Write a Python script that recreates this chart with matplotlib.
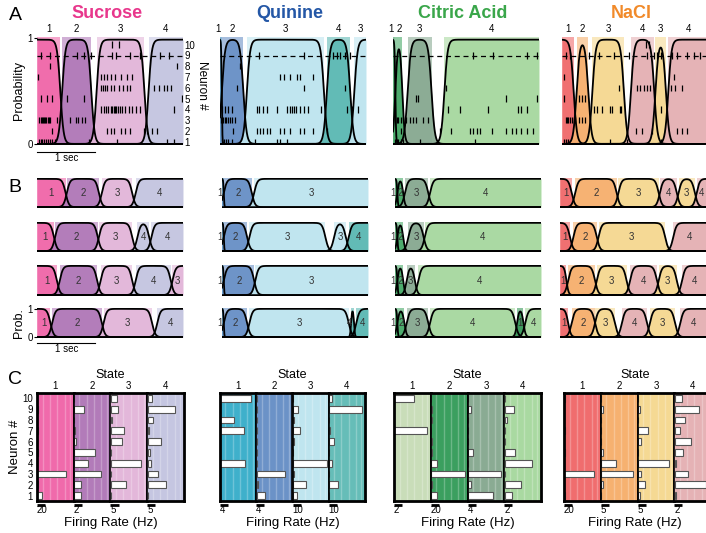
import numpy as np
import matplotlib.pyplot as plt

plt.rcParams['font.family'] = ['Liberation Sans', 'DejaVu Sans']

W, H = 706, 533
fig = plt.figure(figsize=(7.06, 5.33), dpi=100)


def box(x0, y0, x1, y1):
    # pixel box -> figure fraction
    return [x0 / W, 1 - y1 / H, (x1 - x0) / W, (y1 - y0) / H]


tastes = ['Sucrose', 'Quinine', 'Citric Acid', 'NaCl']
title_colors = ['#e8378c', '#2457a6', '#3aa64a', '#f18a2a']
state_colors = {
    'Sucrose': ['#f06aab', '#b27bb9', '#e3b7da', '#c5c6e1'],
    'Quinine': ['#3f8fc0', '#6b92c7', '#bfe5ef', '#5fbab5'],
    'Citric Acid': ['#3b9a5c', '#4aab6a', '#8aab93', '#a9d9a1'],
    'NaCl': ['#f06d6e', '#f6b170', '#f5d993', '#e5b2b5'],
}
c_colors = {
    'Sucrose': ['#f06aab', '#b27bb9', '#e3b7da', '#c5c6e1'],
    'Quinine': ['#3fb0cb', '#6b92c7', '#bfe5ef', '#66bdb8'],
    'Citric Acid': ['#c9ddb9', '#3b9f5f', '#8aab93', '#a9d9a1'],
    'NaCl': ['#f06d6e', '#f6b170', '#f5d993', '#e5b2b5'],
}

# ---------- panel A : single trial (state, start s, end s) ----------
segA_sucrose = [(1, 0.0, 0.40), (2, 0.43, 0.93), (3, 1.02, 1.84), (4, 1.91, 2.5)]
segA_quinine = [(1, 0.0, 0.03), (2, 0.03, 0.40), (3, 0.46, 1.78), (4, 1.83, 2.23), (3, 2.30, 2.5)]
segA_citric = [(1, 0.0, 0.04), (2, 0.04, 0.16), (3, 0.25, 0.66), (4, 0.88, 2.5)]
segA_nacl = [(1, 0.0, 0.20), (2, 0.25, 0.45), (3, 0.52, 1.06), (4, 1.18, 1.58), (3, 1.60, 1.78), (4, 1.82, 2.5)]

# spike times (s), neuron 1 .. 10
spikes_sucrose = [
    [0.03, 0.06, 0.09, 0.12, 0.15, 0.18, 0.22, 0.26, 0.31, 0.89, 1.37, 2.23, 2.34],
    [0.26, 1.20, 1.26, 1.31, 1.43, 1.51, 1.60, 1.83, 1.89, 1.97, 2.06],
    [0.04, 0.06, 0.08, 0.10, 0.12, 0.14, 0.16, 0.18, 0.20, 0.22, 0.34, 0.57, 0.66, 0.71, 0.77, 0.83],
    [1.09, 1.14, 1.18, 1.22, 1.26, 1.29, 1.31, 1.33, 1.35, 1.38, 1.42, 1.46, 1.51, 1.57, 1.63, 1.70, 1.77, 2.34],
    [0.06, 0.17, 0.26, 0.51, 0.80, 2.49],
    [1.09, 1.13, 1.17, 1.20, 1.26, 1.32, 1.40, 1.48, 1.54, 1.60, 2.00, 2.09, 2.17, 2.23, 2.29],
    [0.01, 1.09, 1.14, 1.20, 1.26, 1.34, 1.43, 1.54, 1.63],
    [0.23, 2.40],
    [0.06, 0.23, 0.69, 0.80, 0.92, 1.29, 1.35, 1.60, 1.77, 2.11, 2.26],
    [1.29, 1.40],
]
spikes_quinine = [
    [0.03, 0.07, 0.10, 0.14, 0.20, 0.60, 0.97, 1.03, 1.14],
    [0.23, 0.63, 0.69, 0.74, 0.80, 0.86, 1.03, 1.09, 1.20, 1.37, 1.43, 1.60, 1.83],
    [0.02, 0.05, 0.08, 0.11, 0.14, 0.17, 0.20, 0.26],
    [0.03, 0.09, 0.14, 0.20, 0.63, 0.66, 0.74, 0.80, 0.97, 1.14, 1.20, 1.23, 1.26, 1.30, 1.37, 1.43, 1.50,
     1.73, 2.17, 2.26, 2.37],
    [],
    [0.29, 1.43, 2.14],
    [1.03, 1.09, 1.20, 1.31, 1.37, 1.60],
    [0.35],
    [0.66, 1.43, 1.94, 2.00, 2.06, 2.14, 2.23],
    [],
]
spikes_citric = [
    [0.03, 0.06, 0.09, 0.13, 0.17, 0.46, 1.40],
    [0.14, 0.80, 1.00, 1.31, 1.37, 1.43, 1.49, 1.69, 1.94, 2.03, 2.11, 2.20, 2.29, 2.40],
    [0.03, 0.06, 0.09, 0.14, 0.17, 0.23, 0.29, 0.34, 0.40, 0.51, 0.60],
    [0.94, 1.14, 1.63, 2.14, 2.20, 2.29],
    [0.40, 0.43, 1.94, 2.46],
    [0.91],
    [],
    [],
    [1.37, 1.71, 2.29, 2.46],
    [],
]
spikes_nacl = [
    [0.03, 0.06, 0.11, 0.83, 1.11, 1.69],
    [1.27, 1.37, 1.54, 1.97, 2.06, 2.14],
    [0.06, 0.09, 0.11, 0.14, 0.17, 0.20, 0.23, 0.29, 0.34, 0.40],
    [0.54, 0.60, 0.69, 0.83, 0.86, 1.00, 1.01, 1.69],
    [0.03, 0.29, 0.34, 0.40],
    [0.97, 1.29, 1.34, 1.40, 1.46, 1.51, 1.86, 1.94, 2.06],
    [0.03, 1.91],
    [],
    [0.06, 0.14, 0.46, 0.63, 0.89, 1.14, 1.46, 1.57, 1.63, 1.69, 1.89, 1.97, 2.14, 2.26, 2.37],
    [1.43, 1.49],
]

# ---------- panel B : four trials per taste ----------
segB_sucrose = [
    [(1, 0, 0.49), (2, 0.51, 1.06), (3, 1.11, 1.63), (4, 1.69, 2.5)],
    [(1, 0, 0.29), (2, 0.31, 1.04), (3, 1.06, 1.63), (4, 1.72, 1.92), (4, 1.96, 2.5)],
    [(1, 0, 0.34), (2, 0.39, 1.03), (3, 1.09, 1.63), (4, 1.69, 2.29), (3, 2.32, 2.5)],
    [(1, 0, 0.23), (2, 0.26, 1.11), (3, 1.14, 1.97), (4, 2.06, 2.5)],
]
segB_quinine = [
    [(1, 0, 0.03), (2, 0.03, 0.51), (3, 0.55, 2.5)],
    [(1, 0, 0.03), (2, 0.03, 0.43), (3, 0.47, 1.77), (3, 1.92, 2.12), (4, 2.17, 2.5)],
    [(1, 0, 0.03), (2, 0.03, 0.55), (3, 0.57, 2.5)],
    [(1, 0, 0.03), (2, 0.03, 0.43), (3, 0.47, 2.17), (4, 2.21, 2.26), (4, 2.30, 2.5)],
]
segB_citric = [
    [(1, 0, 0.04), (2, 0.04, 0.14), (3, 0.17, 0.57), (4, 0.60, 2.5)],
    [(1, 0, 0.04), (2, 0.04, 0.14), (3, 0.23, 0.49), (4, 0.51, 2.5)],
    [(1, 0, 0.04), (2, 0.04, 0.14), (3, 0.20, 0.34), (4, 0.40, 2.5)],
    [(1, 0, 0.04), (2, 0.04, 0.16), (3, 0.20, 0.57), (4, 0.60, 2.06), (1, 2.09, 2.20), (4, 2.23, 2.5)],
]
segB_nacl = [
    [(1, 0, 0.20), (2, 0.26, 0.97), (3, 1.00, 1.69), (4, 1.71, 2.00), (3, 2.03, 2.31), (4, 2.34, 2.5)],
    [(1, 0, 0.17), (2, 0.23, 0.63), (3, 0.66, 1.80), (4, 1.94, 2.5)],
    [(1, 0, 0.11), (2, 0.14, 0.60), (3, 0.63, 1.14), (4, 1.20, 1.66), (3, 1.69, 2.00), (4, 2.09, 2.5)],
    [(1, 0, 0.14), (2, 0.20, 0.60), (3, 0.60, 0.94), (4, 1.06, 1.49), (3, 1.54, 1.97), (4, 2.06, 2.5)],
]

# ---------- panel C : firing rate (Hz) per state, neuron 1 .. 10 ----------
scales_sucrose = [20, 2, 5, 5]
scales_quinine = [4, 4, 10, 10]
scales_citric = [2, 20, 4, 2]
scales_nacl = [20, 5, 5, 2]

rates_sucrose = [
    [11, 2.7, 69, 0, 2.5, 0, 1.5, 0, 2.5, 0],
    [1.75, 1.75, 6.5, 3.3, 5.2, 0.4, 0.25, 0, 2.3, 0],
    [0, 9, 0, 18.7, 0, 6.6, 8, 0.8, 4.4, 4],
    [0.4, 11, 6.6, 2, 1.6, 8, 0.6, 3.6, 16.7, 2.6],
]
rates_quinine = [
    [0, 0, 0, 12.4, 0, 0, 11.5, 6.7, 0, 15.2],
    [4.1, 0.5, 14.2, 0.2, 0.2, 0.2, 0.2, 0.2, 0.2, 0.2],
    [5.3, 16, 0.8, 42, 0.5, 1.2, 9.4, 1.2, 6.1, 0],
    [0, 10.6, 0, 3.7, 0, 6.5, 1.2, 0, 41, 3.3],
]
rates_citric = [
    [0, 0, 0, 0, 0, 0, 8.1, 0, 0, 4.9],
    [15, 2.4, 82, 14.6, 2.4, 2.4, 0, 2.4, 2.4, 0],
    [12.2, 1.6, 16, 0, 2.4, 0.3, 0, 0.3, 1.5, 0],
    [1.7, 4.1, 0.2, 6.8, 2.5, 0.2, 0, 0.5, 2.3, 0],
]
rates_nacl = [
    [2.5, 0, 73, 0, 2, 0, 2, 0, 0, 2],
    [0, 1, 19.4, 9, 1, 0, 0, 0, 1, 0],
    [1, 4.2, 1.7, 18.8, 0, 1.7, 6.2, 0, 1, 0],
    [0.3, 7.8, 3.3, 0.4, 2, 3.9, 1.2, 2.5, 6, 1.8],
]

segA = [segA_sucrose, segA_quinine, segA_citric, segA_nacl]
spikes = [spikes_sucrose, spikes_quinine, spikes_citric, spikes_nacl]
segB = [segB_sucrose, segB_quinine, segB_citric, segB_nacl]
scales = [scales_sucrose, scales_quinine, scales_citric, scales_nacl]
rates = [rates_sucrose, rates_quinine, rates_citric, rates_nacl]

t = np.linspace(0, 2.5, 1500)
T_END = 2.5


def state_prob(start, end):
    w = min(0.028, (end - start) / 6)
    a = -1.0 if start <= 0 else start
    b = T_END + 1 if end >= T_END else end
    return 1 / (1 + np.exp(-(t - a) / w)) / (1 + np.exp(-(b - t) / w))


def draw_states(ax, segs, cols, pmax):
    for st, s, e in segs:
        c = cols[st - 1]
        ax.axvspan(s, e, color=c, alpha=0.6, lw=0, zorder=0)
    for st, s, e in segs:
        c = cols[st - 1]
        p = state_prob(s, e) * pmax
        ax.fill_between(t, 0, p, color=c, alpha=0.95, lw=0, zorder=1)
        ax.plot(t, p, color='k', lw=1.3, zorder=3)
    ax.set_xlim(0, T_END)


def label_x(s, e):
    if e - s < 0.06:
        return s - 0.035
    return (s + e) / 2


row_pos = 0.02 + np.arange(10) * 0.102

A_x = [(37, 183), (220, 366), (393, 539), (562, 708)]
B_x = [(37, 183), (222, 368), (395, 541), (560, 706)]
C_x = [(37, 184), (220, 365), (394, 541), (564, 711)]
B_rows = [(178, 208), (222, 252), (265, 296), (308, 338)]

for k, taste in enumerate(tastes):
    cols = state_colors[taste]
    # ---- A ----
    ax = fig.add_axes(box(A_x[k][0], 37, A_x[k][1], 145))
    draw_states(ax, segA[k], cols, 0.985)
    for n, times in enumerate(spikes[k]):
        if times:
            ax.vlines(times, row_pos[n] - 0.03, row_pos[n] + 0.03, color='k', lw=0.9, zorder=4)
    ax.axhline(0.83, color='k', ls=(0, (4, 3)), lw=0.9, zorder=4)
    ax.set_ylim(-0.01, 1.01)
    for sp in ax.spines.values():
        sp.set_visible(False)
    ax.set_xticks([])
    for st, s, e in segA[k]:
        ax.text(label_x(s, e), 1.075, str(st), transform=ax.get_xaxis_transform(),
                ha='center', va='center', fontsize=7)
    tx = (A_x[k][0] + min(A_x[k][1], 706)) / 2 - 3
    fig.text(tx / W, 1 - 13 / H, taste, color=title_colors[k],
             fontsize=13, fontweight='bold', ha='center', va='center')
    if k == 0:
        ax.set_yticks([0, 1])
        ax.tick_params(axis='y', length=2, labelsize=7, pad=1)
        ax.set_ylabel('Probability', fontsize=9, labelpad=2)
        ax2 = ax.twinx()
        ax2.set_ylim(ax.get_ylim())
        ax2.set_yticks(row_pos)
        ax2.set_yticklabels([str(i) for i in range(1, 11)], fontsize=7)
        ax2.tick_params(length=0, pad=1)
        ax2.set_ylabel('Neuron #', fontsize=8.5, rotation=270, va='center')
        ax2.yaxis.set_label_coords(1.13, 0.55)
        for sp in ax2.spines.values():
            sp.set_visible(False)
        tr = ax.get_xaxis_transform()
        ax.plot([0, 1], [-0.065, -0.065], color='k', lw=0.8, transform=tr, clip_on=False)
        ax.text(0.5, -0.12, '1 sec', transform=tr, ha='center', va='center', fontsize=7)
    else:
        ax.set_yticks([])

    # ---- B ----
    for r, (y0, y1) in enumerate(B_rows):
        bx = fig.add_axes(box(B_x[k][0], y0, B_x[k][1], y1))
        draw_states(bx, segB[k][r], cols, 1.0)
        bx.set_ylim(-0.03, 1.03)
        for sp in bx.spines.values():
            sp.set_visible(False)
        bx.set_xticks([])
        for st, s, e in segB[k][r]:
            bx.text(label_x(s, e), 0.5, str(st), ha='center', va='center', fontsize=7,
                    color='#333333', zorder=5, clip_on=False)
        if k == 0 and r == 3:
            bx.set_yticks([0, 1])
            bx.tick_params(axis='y', length=2, labelsize=7, pad=1)
            bx.set_ylabel('Prob.', fontsize=9, labelpad=2)
            tr = bx.get_xaxis_transform()
            bx.plot([0, 1], [-0.17, -0.17], color='k', lw=0.8, transform=tr, clip_on=False)
            bx.text(0.5, -0.37, '1 sec', transform=tr, ha='center', va='center', fontsize=7)
        else:
            bx.set_yticks([])

    # ---- C ----
    cc = c_colors[taste]
    x0, x1 = C_x[k]
    sw = (x1 - x0) / 4
    for s in range(4):
        xmax = 4.5 * scales[k][s]
        cx = fig.add_axes(box(x0 + s * sw, 393, x0 + (s + 1) * sw, 501))
        cx.set_facecolor(cc[s])
        for f in [0.15, 0.35, 0.55, 0.75, 0.9]:
            cx.axvline(f * xmax, color='white', alpha=0.25, lw=1.0, zorder=0)
        cx.barh(np.arange(1, 11), rates[k][s], left=0.01 * xmax, height=0.62,
                color='white', edgecolor='#555555', lw=0.8, zorder=2)
        cx.set_xlim(0, xmax)
        cx.set_ylim(0.5, 10.5)
        cx.set_xticks([])
        for name, sp in cx.spines.items():
            sp.set_linewidth(1.2)
        cx.spines['top'].set_linewidth(2)
        cx.spines['bottom'].set_linewidth(2)
        if s == 0:
            cx.spines['left'].set_linewidth(2)
        if s == 3:
            cx.spines['right'].set_linewidth(2)
        tr = cx.get_xaxis_transform()
        cx.plot([0, scales[k][s]], [-0.035, -0.035], color='k', lw=2, transform=tr,
                clip_on=False, solid_capstyle='butt')
        cx.text(0.0, -0.085, str(scales[k][s]), transform=tr, ha='left', va='center', fontsize=7)
        cx.text(0.5, 1.065, str(s + 1), transform=cx.transAxes, ha='center', va='center', fontsize=7)
        if k == 0 and s == 0:
            cx.set_yticks(np.arange(1, 11))
            cx.set_yticklabels([str(i) for i in range(1, 11)], fontsize=7)
            cx.tick_params(axis='y', length=0, pad=3)
            cx.set_ylabel('Neuron #', fontsize=9.5, labelpad=1)
        else:
            cx.set_yticks([])
    xm = (x0 + min(x1, 706)) / 2
    fig.text(xm / W, 1 - 375 / H, 'State', fontsize=9, ha='center', va='center')
    fig.text(xm / W, 1 - 523 / H, 'Firing Rate (Hz)', fontsize=9.5, ha='center', va='center')

fig.text(15 / W, 1 - 15 / H, 'A', fontsize=14, ha='center', va='center')
fig.text(15 / W, 1 - 187 / H, 'B', fontsize=14, ha='center', va='center')
fig.text(15 / W, 1 - 380 / H, 'C', fontsize=14, ha='center', va='center')

fig.savefig('out.png', dpi=100)
